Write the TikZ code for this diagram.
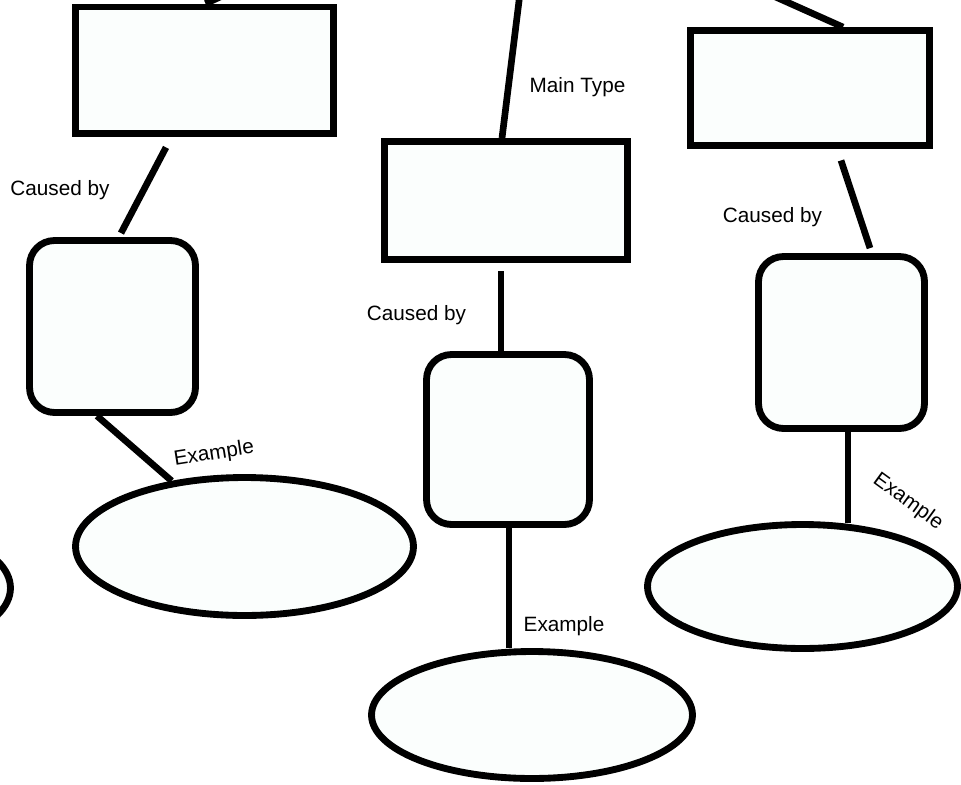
\documentclass[tikz,border=0pt]{standalone}
\usepackage{fontspec}
\setmainfont{Liberation Sans}
\usetikzlibrary{shapes,positioning,calc}
\definecolor{boxfill}{RGB}{251,254,253}
\tikzset{
  typebox/.style={draw, rectangle, fill=boxfill, line width=3.9pt, inner sep=0pt},
  causebox/.style={draw, rectangle, rounded corners=0.5cm, fill=boxfill, line width=3.9pt, inner sep=0pt},
  examplebubble/.style={draw, ellipse, fill=boxfill, line width=3.9pt, inner sep=0pt},
  link/.style={line width=3.8pt},
  tag/.style={font=\fontsize{11.8pt}{14pt}\selectfont, inner sep=0pt}
}

\begin{document}
\begin{tikzpicture}[x=0.02cm, y=-0.02cm]
				\useasboundingbox (0,0) rectangle (961,785);
				\clip (0,0) rectangle (961,785);
				
				% Draw type boxes
				\node[typebox, minimum width=5.16cm, minimum height=2.53cm] (lrect) at (204.5,70.25) {};
				\node[typebox, minimum width=4.86cm, minimum height=2.36cm] (mrect) at (506,200.5) {};
				\node[typebox, minimum width=4.78cm, minimum height=2.30cm] (rrect) at (810,88) {};
				
				% Draw cause boxes
				\node[causebox, minimum width=3.32cm, minimum height=3.44cm] (lround) at (112.5,326.5) {};
				\node[causebox, minimum width=3.26cm, minimum height=3.40cm] (mround) at (508,439.5) {};
				\node[causebox, minimum width=3.32cm, minimum height=3.44cm] (rround) at (841.5,342.5) {};
				
				% Draw example bubbles
				\node[examplebubble, minimum width=6.76cm, minimum height=2.80cm] (farell) at (-158.5,588) {};
				\node[examplebubble, minimum width=6.76cm, minimum height=2.76cm] (lell) at (244.5,546.5) {};
				\node[examplebubble, minimum width=6.42cm, minimum height=2.54cm] (mell) at (532,715) {};
				\node[examplebubble, minimum width=6.20cm, minimum height=2.48cm] (rell) at (802.5,586.5) {};
				
				% Loose ends above the page
				\coordinate (ltopend) at (262,-22);
				\coordinate (mtopend) at (521,-15);
				\coordinate (rtopend) at (760,-10);
				
				% Draw connections
				\draw[link] ($(lrect.north)+(1,0)$) -- (ltopend);
				\draw[link] ($(mrect.north)+(-4,0)$) -- (mtopend);
				\draw[link] ($(rrect.north)+(33,0)$) -- (rtopend);
				\draw[link] ($(lrect.south)+(-38.5,10.5)$) -- ($(lround.north)+(8.5,-4)$);
				\draw[link] ($(mrect.south)+(-5,8.5)$) -- ($(mround.north)+(-7,0)$);
				\draw[link] ($(rrect.south)+(31,11.5)$) -- ($(rround.north)+(28.5,-5)$);
				\draw[link] ($(lround.south)+(-15.5,0)$) -- (lell.138);
				\draw[link] ($(mround.south)+(1,0)$) -- ($(mell.north)+(-23,0)$);
				\draw[link] ($(rround.south)+(6.5,0)$) -- ($(rell.north)+(45.5,2)$);
				
				% Labels
				\node[tag] (lcause) at (60,190) {Caused by};
				\node[tag] (mcause) at (416.5,315) {Caused by};
				\node[tag] (rcause) at (772.5,217) {Caused by};
				\node[tag] (maintype) at (577.5,87) {Main Type};
				\node[tag, rotate=9] (lex) at (214,454) {Example};
				\node[tag] (mex) at (564,626) {Example};
				\node[tag, rotate=-36] (rex) at (908,502) {Example};
			\end{tikzpicture}
\end{document}
